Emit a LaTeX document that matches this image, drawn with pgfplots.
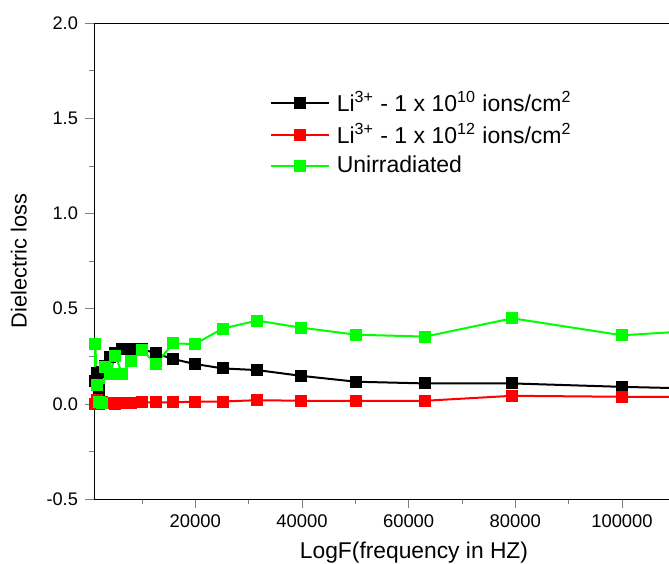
\documentclass[border=0pt]{standalone}
\usepackage{fontspec}
\setmainfont{Liberation Sans}
\usepackage{pgfplots}
\pgfplotsset{compat=1.18}
\definecolor{mygreen}{RGB}{0,255,0}
\definecolor{myred}{RGB}{255,0,0}
\begin{document}
\begin{tikzpicture}
\begin{axis}[
  scale only axis,
  width=320pt, height=238pt,
  xmin=1012, xmax=121000,
  ymin=-0.5, ymax=2.0,
  axis x line*=box, axis y line*=left,
  xtick pos=bottom, ytick pos=left,
  tick align=outside,
  major tick length=4.5pt, minor tick length=2.3pt,
  xtick={20000,40000,60000,80000,100000},
  xticklabels={20000,40000,60000,80000,100000},
  minor xtick={10000,30000,50000,70000,90000},
  ytick={-0.5,0,0.5,1.0,1.5,2.0},
  yticklabels={-0.5,0.0,0.5,1.0,1.5,2.0},
  minor ytick={-0.25,0.25,0.75,1.25,1.75},
  scaled x ticks=false,
  xticklabel style={font=\fontsize{9.2pt}{11pt}\selectfont},
  yticklabel style={font=\fontsize{9.1pt}{11pt}\selectfont},
  every axis plot/.append style={line width=1pt, mark=square*, mark size=2.5pt},
  xlabel={LogF(frequency in HZ)},
  ylabel={Dielectric loss},
  xlabel style={font=\fontsize{11.4pt}{13pt}\selectfont},
  ylabel style={font=\fontsize{10.9pt}{13pt}\selectfont, yshift=3pt},
  legend style={draw=none, fill=none, at={(axis description cs:0.274,0.866)}, anchor=north west,
    font=\fontsize{11.5pt}{14pt}\selectfont, row sep=0.8pt, inner sep=0pt,
    /tikz/every even column/.append style={column sep=0pt}},
  legend cell align=left,
  legend image code/.code={\draw[mark repeat=2,mark phase=2,#1] plot coordinates {(0pt,0pt) (14.5pt,0pt) (29pt,0pt)};},
  legend style={nodes={inner xsep=3.5pt}},
]
\addplot[black, mark options={fill=black}] coordinates {
(1000,0.15) (1259,0.12) (1585,0.16) (1995,0.07) (2512,0.165) (3162,0.20) (3981,0.244) (5012,0.265) (6310,0.288) (7943,0.29) (10000,0.288)
(12589,0.265) (15849,0.235) (19953,0.209) (25119,0.186) (31623,0.177) (39811,0.147) (50119,0.116) (63096,0.107) (79433,0.107) (100000,0.089) (125893,0.072)};
\addlegendentry{Li\textsuperscript{3+} - 1 x 10\textsuperscript{10} ions/cm\textsuperscript{2}}
\addplot[myred, mark options={fill=myred}] coordinates {
(1000,-0.01) (1259,0.0) (1585,0.02) (1995,0.0) (2512,0.01) (3162,0.005) (3981,0.003) (5012,0.0) (6310,0.005) (7943,0.005) (10000,0.007)
(12589,0.007) (15849,0.007) (19953,0.012) (25119,0.012) (31623,0.019) (39811,0.016) (50119,0.016) (63096,0.016) (79433,0.042) (100000,0.037) (125893,0.037)};
\addlegendentry{Li\textsuperscript{3+} - 1 x 10\textsuperscript{12} ions/cm\textsuperscript{2}}
\addplot[mygreen, mark options={fill=mygreen}] coordinates {
(1000,0.15) (1259,0.314) (1585,0.1) (1995,0.01) (2512,0.005) (3162,0.195) (3981,0.157) (5012,0.253) (6310,0.156) (7943,0.226) (10000,0.285)
(12589,0.209) (15849,0.317) (19953,0.314) (25119,0.395) (31623,0.437) (39811,0.40) (50119,0.363) (63096,0.353) (79433,0.449) (100000,0.36) (125893,0.404)};
\addlegendentry{Unirradiated}
\end{axis}
\pgfresetboundingbox
\path[use as bounding box] (current axis.south west) ++(-47pt,-32pt) rectangle ++(334.5pt,281.5pt);
\end{tikzpicture}
\end{document}
